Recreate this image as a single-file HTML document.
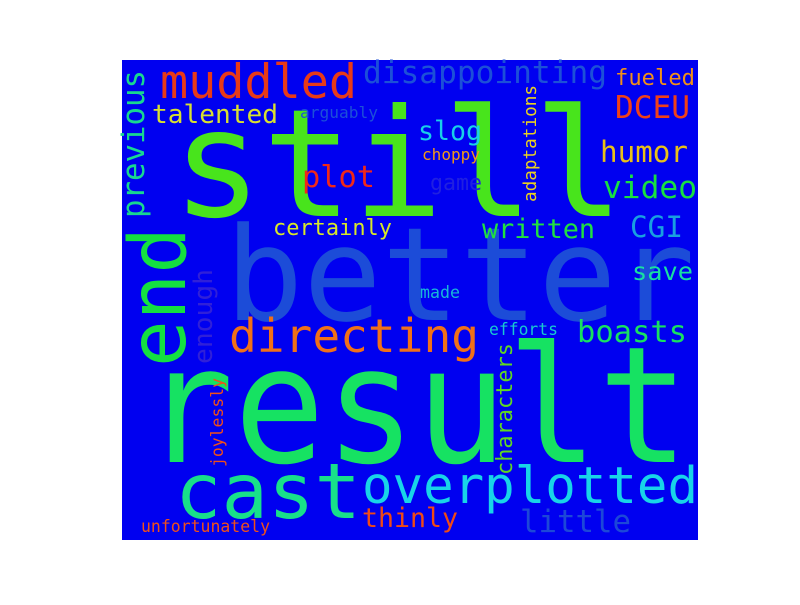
<!DOCTYPE html>
<html><head><meta charset="utf-8"><style>
html,body{margin:0;padding:0;background:#fff;}
svg text{font-family:"DejaVu Sans Mono","Liberation Mono",monospace;}
</style></head><body>
<svg width="800" height="600" xmlns="http://www.w3.org/2000/svg">
<rect x="122" y="60" width="576" height="480" fill="#0000f0"/>
<g lengthAdjust="spacingAndGlyphs">
<text x="225" y="320" font-size="130" fill="#1c4cd8" textLength="470" lengthAdjust="spacingAndGlyphs">better</text>
<text x="172" y="216" font-size="150" fill="#48e41c" textLength="452" lengthAdjust="spacingAndGlyphs">still</text>
<text x="143" y="462" font-size="162" fill="#16e262" textLength="546" lengthAdjust="spacingAndGlyphs">result</text>
<text x="175" y="518" font-size="77" fill="#18e08a" textLength="186" lengthAdjust="spacingAndGlyphs">cast</text>
<text x="362" y="503" font-size="51" fill="#18d4e8" textLength="336" lengthAdjust="spacingAndGlyphs">overplotted</text>
<text x="362" y="527" font-size="27" fill="#f04a14" textLength="96" lengthAdjust="spacingAndGlyphs">thinly</text>
<text x="520" y="532" font-size="31" fill="#1c48d8" textLength="111" lengthAdjust="spacingAndGlyphs">little</text>
<text x="141" y="532" font-size="16.5" fill="#f0501a" textLength="129" lengthAdjust="spacingAndGlyphs">unfortunately</text>
<text x="229" y="352" font-size="46" fill="#f07018" textLength="250" lengthAdjust="spacingAndGlyphs">directing</text>
<text x="489" y="335" font-size="16.5" fill="#18c8d0" textLength="69" lengthAdjust="spacingAndGlyphs">efforts</text>
<text x="577" y="342" font-size="30" fill="#18e060" textLength="110" lengthAdjust="spacingAndGlyphs">boasts</text>
<text x="420" y="298" font-size="16.5" fill="#18b8d8" textLength="40" lengthAdjust="spacingAndGlyphs">made</text>
<text x="160" y="98" font-size="47" fill="#e83a18" textLength="197" lengthAdjust="spacingAndGlyphs">muddled</text>
<text x="363" y="83" font-size="31" fill="#1c50d8" textLength="244" lengthAdjust="spacingAndGlyphs">disappointing</text>
<text x="152" y="123" font-size="26" fill="#d8e030" textLength="126" lengthAdjust="spacingAndGlyphs">talented</text>
<text x="300" y="118" font-size="16" fill="#1c50d8" textLength="78" lengthAdjust="spacingAndGlyphs">arguably</text>
<text x="302" y="187" font-size="30" fill="#f02818" textLength="73" lengthAdjust="spacingAndGlyphs">plot</text>
<text x="273" y="235" font-size="22" fill="#d8e828" textLength="119" lengthAdjust="spacingAndGlyphs">certainly</text>
<text x="615" y="85" font-size="22" fill="#f09018" textLength="80" lengthAdjust="spacingAndGlyphs">fueled</text>
<text x="615" y="118" font-size="31" fill="#f04018" textLength="75" lengthAdjust="spacingAndGlyphs">DCEU</text>
<text x="418" y="140" font-size="27" fill="#18d0e8" textLength="64" lengthAdjust="spacingAndGlyphs">slog</text>
<text x="422" y="160" font-size="16" fill="#f09818" textLength="58" lengthAdjust="spacingAndGlyphs">choppy</text>
<text x="430" y="190" font-size="22" fill="#2020e0" textLength="52" lengthAdjust="spacingAndGlyphs">game</text>
<text x="600" y="162" font-size="29" fill="#e8c018" textLength="88" lengthAdjust="spacingAndGlyphs">humor</text>
<text x="603" y="198" font-size="31" fill="#18e040" textLength="94" lengthAdjust="spacingAndGlyphs">video</text>
<text x="482" y="238" font-size="27" fill="#20e040" textLength="113" lengthAdjust="spacingAndGlyphs">written</text>
<text x="630" y="237" font-size="29" fill="#18a0e0" textLength="53" lengthAdjust="spacingAndGlyphs">CGI</text>
<text x="632" y="280" font-size="25" fill="#18e0a0" textLength="61" lengthAdjust="spacingAndGlyphs">save</text>
<text transform="translate(185,367) rotate(-90)" font-size="78" fill="#14e040" textLength="140" lengthAdjust="spacingAndGlyphs">end</text>
<text transform="translate(144,218) rotate(-90)" font-size="31" fill="#18d890" textLength="148" lengthAdjust="spacingAndGlyphs">previous</text>
<text transform="translate(212,364) rotate(-90)" font-size="26" fill="#3020d8" textLength="95" lengthAdjust="spacingAndGlyphs">enough</text>
<text transform="translate(223,467) rotate(-90)" font-size="16.5" fill="#f05018" textLength="89" lengthAdjust="spacingAndGlyphs">joylessly</text>
<text transform="translate(512,475) rotate(-90)" font-size="22" fill="#60d820" textLength="132" lengthAdjust="spacingAndGlyphs">characters</text>
<text transform="translate(536,202) rotate(-90)" font-size="17.5" fill="#e8d020" textLength="117" lengthAdjust="spacingAndGlyphs">adaptations</text>
</g>
</svg>
</body></html>
